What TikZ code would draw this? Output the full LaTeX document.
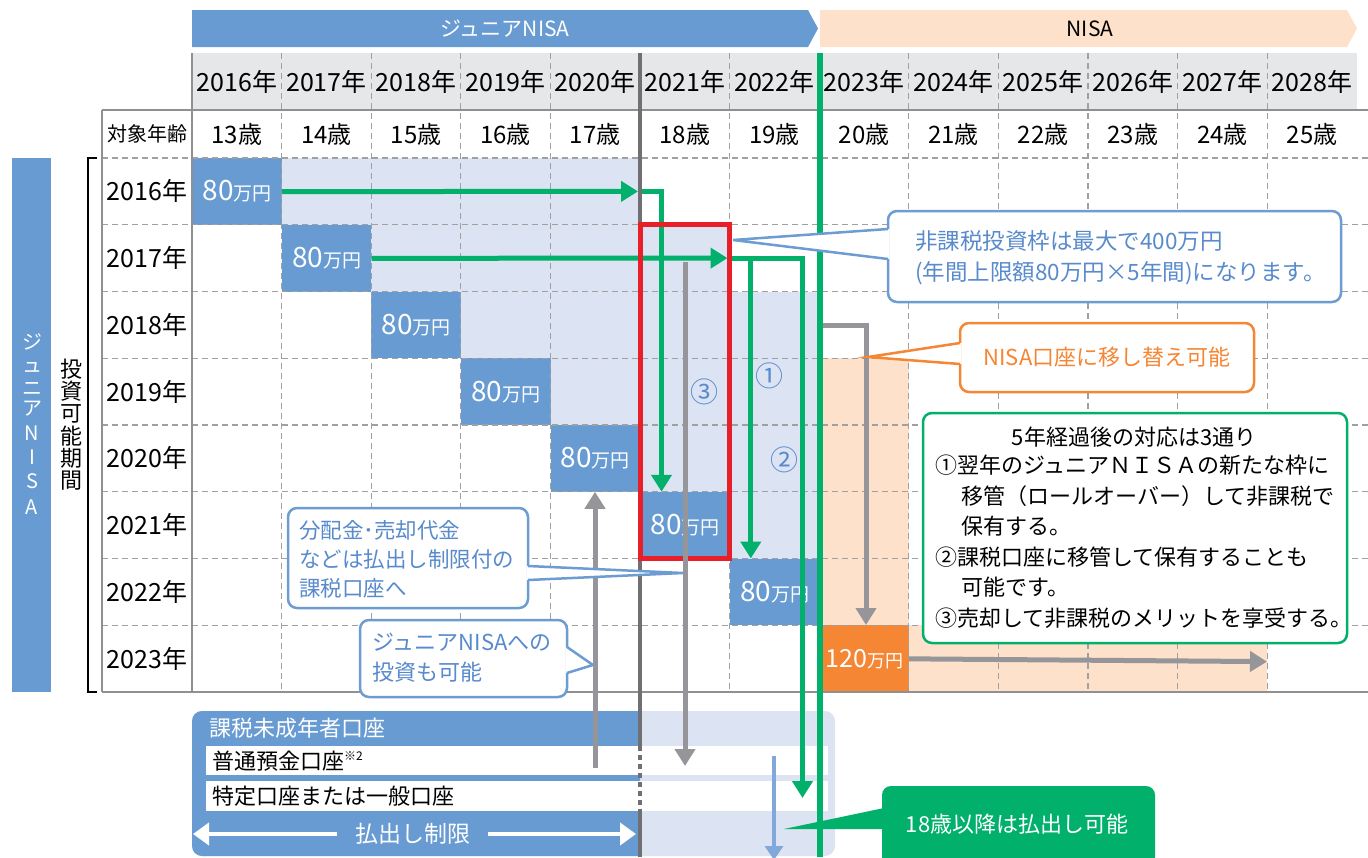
\documentclass[tikz,border=0pt]{standalone}
\usepackage{fontspec}
\setmainfont{Noto Sans CJK JP}
\usetikzlibrary{arrows.meta}
\newcommand\fsz[2]{\fontsize{#1pt}{#2pt}\selectfont}
\newcommand\amt[1]{{\fsz{28}{28}#1}{\fsz{19}{19}万円}}
\newcommand\amtb[1]{{\fsz{25}{25}#1}{\fsz{18}{18}万円}}
\definecolor{mblue}{RGB}{103,155,210}
\definecolor{lblue}{RGB}{220,227,242}
\definecolor{peach}{RGB}{253,225,203}
\definecolor{morange}{RGB}{244,134,52}
\definecolor{mgreen}{RGB}{0,176,107}
\definecolor{mred}{RGB}{232,30,40}
\definecolor{mgray}{RGB}{150,150,154}
\definecolor{dgray}{RGB}{112,112,116}
\definecolor{hgray}{RGB}{230,231,233}
\definecolor{gridc}{RGB}{160,160,160}
\definecolor{tblue}{RGB}{88,138,204}
\definecolor{cblue}{RGB}{108,156,210}
\definecolor{thinblue}{RGB}{130,168,218}
\tikzset{
  gridline/.style={gridc, line width=1.3pt, dash pattern=on 6pt off 4pt},
  gridsolid/.style={gridc!90!black, line width=1.6pt},
  amtbox/.style={fill=mblue, minimum width=89.6pt, minimum height=66.75pt, inner sep=0pt, text=white, anchor=north west},
  gline/.style={mgreen, line width=5pt, line join=miter},
  garrow/.style={gline, -{Triangle[length=17pt,width=20pt]}},
  grarrow/.style={mgray, line width=5pt, line join=miter, -{Triangle[length=17pt,width=20pt]}},
  cbox/.style={draw=cblue, line width=2.5pt, fill=white, rounded corners=9pt},
  cline/.style={cblue, line width=2.5pt, line join=miter},
  obox/.style={draw=morange, line width=2.5pt, fill=white, rounded corners=9pt},
  oline/.style={morange, line width=2.5pt, line join=miter},
  ctext/.style={text=tblue, align=left, anchor=west, inner sep=0pt, font=\fsz{22}{30.5}},
  circnum/.style={text=tblue, font=\fsz{28}{28}},
}
\begin{document}
\begin{tikzpicture}[x=1pt,y=-1pt,font=\fsz{22}{28}]
\useasboundingbox (0,0) rectangle (1368,857);
% banners
\fill[mblue] (192,10) -- (808,10) -- (818,28.5) -- (808,47) -- (192,47) -- cycle;
\node[text=white, font=\fsz{21}{21}] (bannerJ) at (505,28.5) {ジュニアNISA};
\fill[peach] (820,10) -- (1347,10) -- (1357,28.5) -- (1347,47) -- (820,47) -- cycle;
\node[font=\fsz{21}{21}] (bannerN) at (1090,28.5) {NISA};
% header background
\fill[hgray] (192,53) rectangle (1357,110);
% shading
\fill[lblue] (281.6,158) rectangle (640,224.75);
\fill[lblue] (371.2,224.75) rectangle (729.6,291.5);
\fill[lblue] (460.8,291.5) rectangle (819.2,358.25);
\fill[lblue] (550.4,358.25) rectangle (819.2,425);
\fill[lblue] (640,425) rectangle (819.2,491.75);
\fill[lblue] (729.6,491.75) rectangle (819.2,558.5);
\fill[peach] (819.2,358.25) rectangle (908.8,625.25);
\fill[peach] (908.8,625.25) rectangle (1267.2,692);
% amount boxes
\foreach \i in {0,...,6} {
  \node[amtbox] (b\i) at ({192+89.6*\i},{158+66.75*\i}) {\amt{80}};
}
\node[amtbox, fill=morange] (bo) at (819.2,625.25) {\amtb{120}};
% grid
\foreach \i in {1,...,12} \draw[gridline] ({192+89.6*\i},53) -- ({192+89.6*\i},692);
\foreach \j in {0,...,7} \draw[gridline] (102,{158+66.75*\j}) -- (1368,{158+66.75*\j});
\draw[gridsolid] (102,110) -- (1368,110);
\draw[gridsolid] (102,692) -- (1368,692);
\draw[gridsolid] (102,110) -- (102,692);
\draw[gridsolid] (192,53) -- (192,692);
% header texts
\foreach \i in {0,...,12} {
  \pgfmathtruncatemacro\yr{2016+\i}
  \pgfmathtruncatemacro\ag{13+\i}
  \node[font=\fsz{25}{25}] (yh\i) at ({192+89.6*(\i+0.5)},81.5) {\yr 年};
  \node[font=\fsz{24}{24}] (ag\i) at ({192+89.6*(\i+0.5)},134) {\ag 歳};
}
\node[font=\fsz{20}{20}] (taisho) at (147,134) {対象年齢};
\foreach \i in {0,...,7} {
  \pgfmathtruncatemacro\yr{2016+\i}
  \node[font=\fsz{25}{25}] (rl\i) at (147,{158+66.75*(\i+0.5)}) {\yr 年};
}
% left bar and bracket
\fill[mblue] (12,158) rectangle (51,692);
\foreach \c/\y in {ジ/342,ュ/367,ニ/389,ア/409,N/433,I/457,S/481,A/507}
  \node[text=white, font=\fsz{20}{20}] at (32,\y) {\c};
\foreach \c [count=\k] in {投,資,可,能,期,間}
  \node[font=\fsz{22}{22}] at (71,{346.5+22.4*\k}) {\c};
\draw[black, line width=1.8pt] (97,158) -- (88,158) -- (88,692) -- (97,692);
% circled numbers
\node[circnum] (n3) at (704,392) {③};
\node[circnum] (n1) at (769,376) {①};
\node[circnum] (n2) at (784,460) {②};
% account section
\fill[lblue, rounded corners=10pt] (192,711) rectangle (835,856);
\fill[mblue] (640,711) {[rounded corners=10pt] -- (192,711) -- (192,856)} -- (640,856) -- cycle;
\fill[white] (206,746) rectangle (828,775);
\fill[white] (206,781) rectangle (828,811);
\node[text=white, anchor=west, inner sep=0pt] (kazei) at (209,728) {課税未成年者口座};
\node[anchor=west, inner sep=0pt] (futsu) at (212,761) {普通預金口座{\fsz{12}{12}\raisebox{9pt}{※2}}};
\node[anchor=west, inner sep=0pt] (tokutei) at (212,796) {特定口座または一般口座};
\node[text=white, font=\fsz{23}{23}] (harai) at (413,834) {払出し制限};
\draw[white, line width=4pt, -{Triangle[length=16pt,width=22pt]}] (337,834) -- (193,834);
\draw[white, line width=4pt, -{Triangle[length=16pt,width=22pt]}] (488,834) -- (636,834);
% connectors
\coordinate (g1a) at (638,191.4);
\coordinate (g1b) at (640,191.4);
\coordinate (g1c) at (661.5,191.4);
\coordinate (g1d) at (661.5,491.75);
\draw[garrow] (b0.east) -- (g1a);
\draw[garrow] (g1b) -- (g1c) -- (g1d);
\coordinate (g2a) at (727.5,258.1);
\coordinate (g2b) at (731,258.1);
\coordinate (g2c) at (802.5,258.1);
\coordinate (g2d) at (802.5,798);
\coordinate (g2e) at (750.8,258.1);
\coordinate (g2f) at (750.8,558.5);
\draw[garrow] (b1.east) -- (g2a);
\draw[garrow] (g2b) -- (g2c) -- (g2d);
\draw[garrow] (g2e) -- (g2f);
% grey arrows
\coordinate (r1a) at (685,262);
\coordinate (r1b) at (685,766);
\draw[grarrow] (r1a) -- (r1b);
\coordinate (r2a) at (595,768);
\draw[grarrow] (r2a) -- (595,491.75);
\coordinate (r3a) at (821,325);
\coordinate (r3b) at (866,325);
\coordinate (r3c) at (866,625);
\draw[grarrow] (r3a) -- (r3b) -- (r3c);
\coordinate (r4b) at (1267,661.6);
\draw[grarrow] (bo.east) -- (r4b);
\coordinate (tba) at (774,756);
\coordinate (tbb) at (774,860);
\draw[thinblue, line width=3.2pt, -{Triangle[length=14pt,width=18pt]}] (tba) -- (tbb);
% dark grey divider
\draw[dgray, line width=4.5pt] (640,53) -- (640,746);
\draw[dgray, line width=4.5pt, dash pattern=on 5pt off 4pt] (640,746) -- (640,811);
\draw[dgray, line width=4.5pt] (640,811) -- (640,857);
% red box
\draw[mred, line width=5pt] (640,224.75) rectangle (729.6,558.5);
% grey arrow over red
\draw[mgray, line width=5pt] (685,540) -- (685,580);
% green divider
\draw[mgreen, line width=5.5pt] (820,53) -- (820,857);
% callout A
\draw[cbox] (888,211) rectangle (1341,302);
\fill[white] (733,240) -- (889.5,259) -- (889.5,229) -- cycle;
\draw[cline] (888,229) -- (733,240) -- (888,259);
\node[ctext, font=\fsz{22.5}{31}] (cA) at (915,257.5) {非課税投資枠は最大で400万円\\(年間上限額80万円×5年間)になります。};
% callout B
\draw[obox] (960,323) rectangle (1254,392);
\fill[white] (868,357) -- (961.5,364) -- (961.5,343) -- cycle;
\draw[oline] (960,343) -- (868,357) -- (960,364);
\node[text=morange, font=\fsz{22}{22}] (cB) at (1107,357.5) {NISA口座に移し替え可能};
% green box
\draw[mgreen, line width=2.5pt, fill=white, rounded corners=9pt] (923,413) rectangle (1347,643);
\node[font=\fsz{22}{22}] (gT) at (1134,437) {5年経過後の対応は3通り};
\node[anchor=north west, align=left, inner sep=0pt, font=\fsz{22}{30.5}] (gL) at (935,455)
 {①翌年のジュニアＮＩＳＡの新たな枠に\\\hspace*{1.2em}移管（ロールオーバー）して非課税で\\\hspace*{1.2em}保有する。\\②課税口座に移管して保有することも\\\hspace*{1.2em}可能です。\\③売却して非課税のメリットを享受する。};
% callout C
\draw[cbox] (288,508) rectangle (528,608);
\fill[white] (683,573) -- (526.5,566) -- (526.5,580) -- cycle;
\draw[cline] (528,566) -- (683,573) -- (528,580);
\node[ctext, font=\fsz{21.5}{29}] (cC) at (299,559) {分配金･売却代金\\などは払出し制限付の\\課税口座へ};
% callout D
\draw[cbox] (360,620) rectangle (567,697);
\fill[white] (593,665) -- (565.5,647) -- (565.5,673) -- cycle;
\draw[cline] (567,647) -- (593,665) -- (567,673);
\node[ctext, font=\fsz{22}{30}] (cD) at (372,658) {ジュニアNISAへの\\投資も可能};
% callout E
\fill[mgreen, rounded corners=9pt] (882,786) rectangle (1155,866);
\fill[mgreen] (884,808) -- (784,829) -- (884,829) -- cycle;
\node[text=white, font=\fsz{22}{22}] (cE) at (1017,824) {18歳以降は払出し可能};
\end{tikzpicture}
\end{document}
